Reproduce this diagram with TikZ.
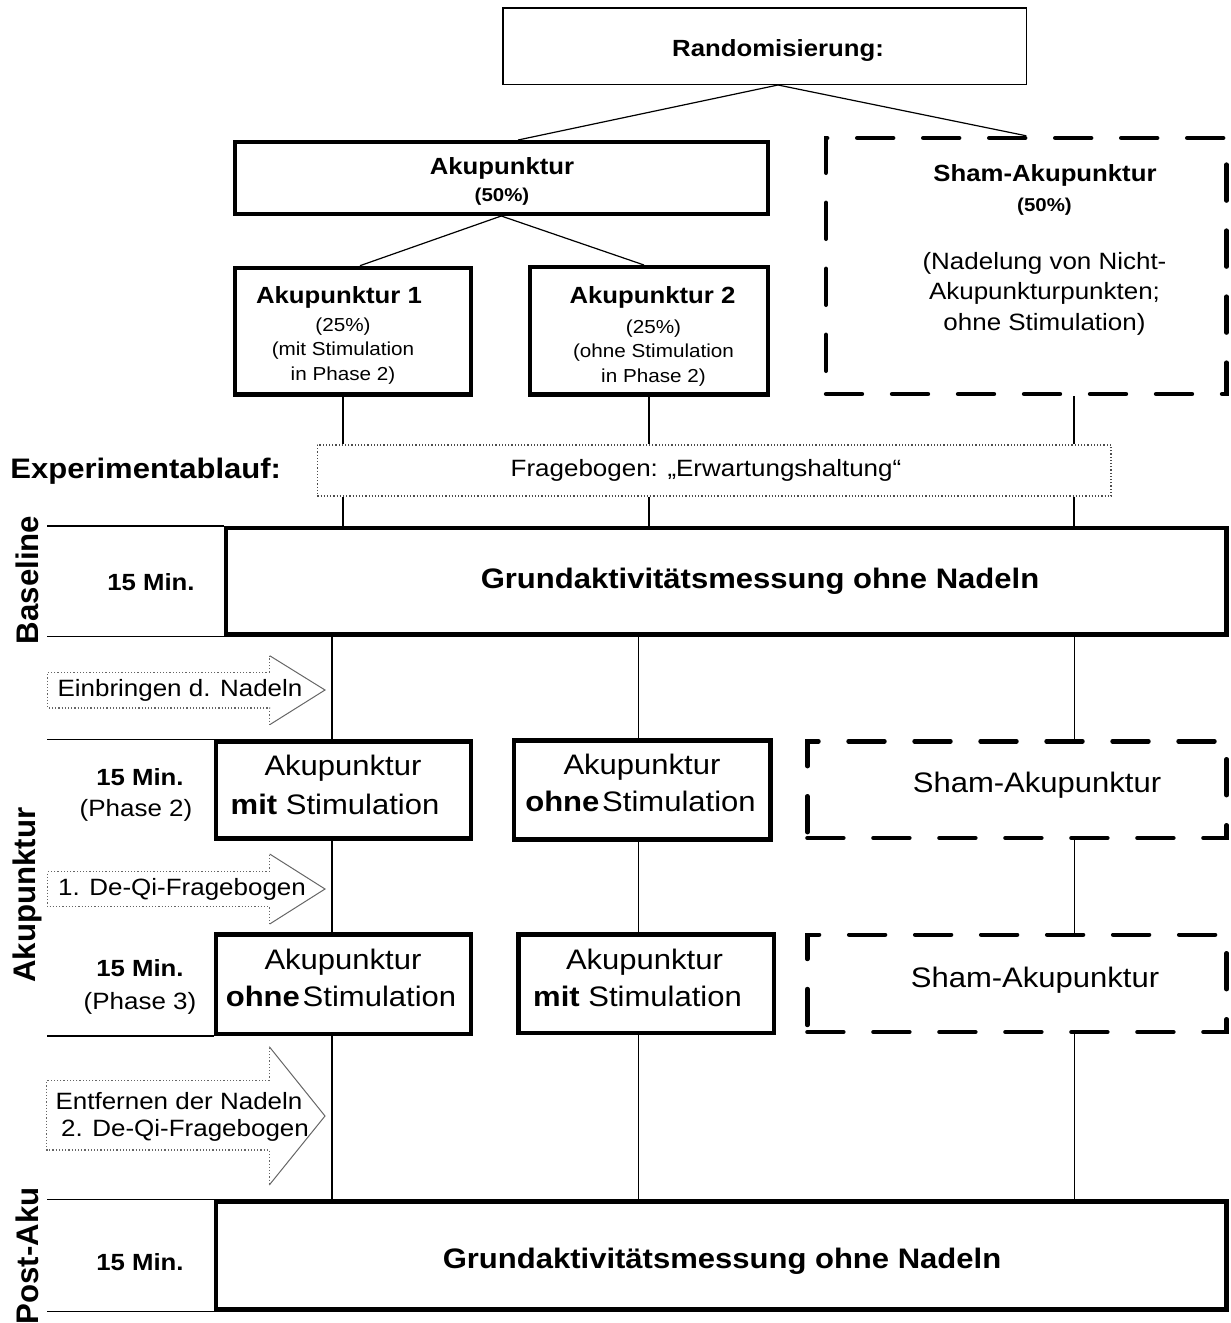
\documentclass[tikz,border=0pt]{standalone}
\usepackage{fontspec}
\setmainfont[FakeStretch=1.1]{Liberation Sans}
\newfontfamily\rotlabelfont{Liberation Sans}
\begin{document}
\begin{tikzpicture}[x=0.5pt,y=-0.5pt,
  tbox/.style={draw, line width=2.2pt, fill=white, inner sep=0pt, rectangle},
  dbox/.style={draw, line width=2.2pt, dash pattern=on 18pt off 15pt, line cap=round, fill=white, inner sep=0pt, rectangle},
  nbox/.style={draw, line width=0.75pt, fill=white, inner sep=0pt, rectangle},
  fbox/.style={draw=black!70, densely dotted, line width=0.6pt, fill=white, inner sep=0pt, rectangle},
  conn/.style={line width=0.6pt},
  lmark/.style={line width=0.75pt},
  adot/.style={draw=black!60, densely dotted, line width=0.6pt},
  ahead/.style={draw=black!60, line width=0.5pt},
  fbig/.style={font=\fontsize{14.1}{18}\selectfont, inner sep=0pt},
  fbigb/.style={font=\fontsize{14.1}{18}\selectfont\bfseries, inner sep=0pt},
  frot/.style={font=\rotlabelfont\fontsize{15.6}{18}\selectfont\bfseries, inner sep=0pt, rotate=90},
  fmed/.style={font=\fontsize{11.8}{15}\selectfont, inner sep=0pt},
  fmedb/.style={font=\fontsize{11.7}{15}\selectfont\bfseries, inner sep=0pt},
  fsmall/.style={font=\fontsize{9.4}{12.2}\selectfont, inner sep=0pt, align=center},
  fsmallb/.style={font=\fontsize{9.3}{12}\selectfont\bfseries, inner sep=0pt}]
\useasboundingbox (0,0) rectangle (1231,1323);

% top boxes
\node[nbox, minimum width=261.75pt, minimum height=38.25pt] (rand) at (764.5,46) {};
\node[fmedb] (randT) at (778,50) {Randomisierung:};

\node[tbox, minimum width=266.55pt, minimum height=35.8pt] (aku) at (501.25,178) {};
\node[fmedb] (akuT) at (502,168) {Akupunktur};
\node[fsmallb] (akuP) at (502,197) {(50\%)};

\node[tbox, minimum width=118.05pt, minimum height=63.3pt] (aku1) at (352.75,331.2) {};
\node[fmedb] (aku1T) at (339,297.7) {Akupunktur 1};
\node[fsmall] (aku1S) at (343,350.8) {(25\%)\\(mit Stimulation\\in Phase 2)};

\node[tbox, minimum width=118.8pt, minimum height=63.65pt] (aku2) at (649,330.85) {};
\node[fmedb] (aku2T) at (652.5,297) {Akupunktur 2};
\node[fsmall] (aku2S) at (653.5,353) {(25\%)\\(ohne Stimulation\\in Phase 2)};

\node[dbox, minimum width=200.3pt, minimum height=128pt] (sham) at (1026.3,266) {};
\node[fmedb] (shamT) at (1045,175) {Sham-Akupunktur};
\node[fsmallb] (shamP) at (1044.5,206.7) {(50\%)};
\node[fmed, align=center, font=\fontsize{11.8}{15.3}\selectfont] (shamS) at (1044.5,293.5) {(Nadelung von Nicht-\\Akupunkturpunkten;\\ohne Stimulation)};

% questionnaire
\node[fbox, minimum width=396.85pt, minimum height=25.5pt] (frage) at (714.15,470.5) {};
\node[fmed] (frageT) at (706,470.5) {Fragebogen: „Erwartungshaltung“};
\node[fbigb, anchor=west] (exp) at (10,471.7) {Experimentablauf:};

% baseline
\node[tbox, minimum width=500.1pt, minimum height=53.15pt] (grund1) at (726.3,581.35) {};
\node[fbigb] (grund1T) at (760,581.7) {Grundaktivitätsmessung ohne Nadeln};

% phase 2
\node[tbox, minimum width=127.7pt, minimum height=48.5pt] (p2a) at (343.4,790) {};
\node[fbig] (p2aT) at (343,768.3) {Akupunktur};
\node[fbig] (p2aU) at (335,804) {\textbf{mit} Stimulation};

\node[tbox, minimum width=128.3pt, minimum height=49.5pt] (p2b) at (642.2,790) {};
\node[fbig] (p2bT) at (642,766.7) {Akupunktur};
\node[fbig] (p2bU) at (640.5,801.7) {\textbf{ohne}\hspace{0.1em}Stimulation};

\node[dbox, minimum width=209.6pt, minimum height=48.35pt] (p2s) at (1017,789.65) {};
\node[fbig] (p2sT) at (1037,785) {Sham-Akupunktur};

% phase 3
\node[tbox, minimum width=127.7pt, minimum height=49.65pt] (p3a) at (343.4,984.15) {};
\node[fbig] (p3aT) at (343,961.7) {Akupunktur};
\node[fbig] (p3aU) at (341,996.7) {\textbf{ohne}\hspace{0.1em}Stimulation};

\node[tbox, minimum width=127.65pt, minimum height=49.15pt] (p3b) at (646.15,983.65) {};
\node[fbig] (p3bT) at (644.5,961.7) {Akupunktur};
\node[fbig] (p3bU) at (637.5,996.7) {\textbf{mit} Stimulation};

\node[dbox, minimum width=209.6pt, minimum height=48.65pt] (p3s) at (1017,983.35) {};
\node[fbig] (p3sT) at (1035,980) {Sham-Akupunktur};

% post
\node[tbox, minimum width=505.35pt, minimum height=54pt] (grund2) at (721.05,1255.5) {};
\node[fbigb] (grund2T) at (722,1261.7) {Grundaktivitätsmessung ohne Nadeln};

% left labels
\node[frot] (lb1) at (27.7,580) {Baseline};
\node[frot] (lb2) at (27.7,895) {Akupunktur};
\node[frot] (lb3) at (27.7,1256) {Post-Aku};
\node[fmedb] (m1) at (151,581.7) {15 Min.};
\node[fmedb] (m2) at (140,777.3) {15 Min.};
\node[fmed] (m2p) at (136,810) {(Phase 2)};
\node[fmedb] (m3) at (140,968.3) {15 Min.};
\node[fmed] (m3p) at (140,1003.3) {(Phase 3)};
\node[fmedb] (m4) at (140,1261.7) {15 Min.};

% connectors
\coordinate (lm) at (47,0);
\coordinate (c1u) at (343,0);
\coordinate (c2u) at (649,0);
\coordinate (c3u) at (1074,0);
\coordinate (c1) at (332,0);
\coordinate (c2) at (638.5,0);
\coordinate (c3) at (1074.4,0);

\draw[conn] ([xshift=6.75pt]rand.south) -- ([xshift=8.4pt]aku.north);
\draw[conn] ([xshift=6.75pt]rand.south) -- (sham.north);
\draw[conn] (aku.south) -- ([xshift=3.6pt]aku1.north);
\draw[conn] (aku.south) -- ([xshift=-2.5pt]aku2.north);

\foreach \c/\n in {c1u/aku1, c2u/aku2, c3u/sham} {
  \draw[conn] (\n.south -| \c) -- (frage.north -| \c);
  \draw[conn] (frage.south -| \c) -- (grund1.north -| \c);
}
\foreach \c/\a/\b in {c1/p2a/p3a, c2/p2b/p3b, c3/p2s/p3s} {
  \draw[conn] (grund1.south -| \c) -- (\a.north -| \c);
  \draw[conn] (\a.south -| \c) -- (\b.north -| \c);
  \draw[conn] (\b.south -| \c) -- (grund2.north -| \c);
}

\draw[lmark] (grund1.north west) -- (lm |- grund1.north west);
\draw[lmark] (grund1.south west) -- (lm |- grund1.south west);
\draw[lmark] (p2a.north west) -- (lm |- p2a.north west);
\draw[lmark] (p3a.south west) -- (lm |- p3a.south west);
\draw[lmark] (grund2.north west) -- (lm |- grund2.north west);
\draw[lmark] (grund2.south west) -- (lm |- grund2.south west);

% block arrows
\draw[adot] (269.7,672.3) -- (47.5,672.3) -- (47.5,708) -- (269.7,708) -- (269.7,724.7);
\draw[adot] (269.7,672.3) -- (269.7,655.7);
\draw[ahead] (269.7,655.7) -- (325,690) -- (269.7,724.7);
\node[fmed] (a1T) at (180,690) {Einbringen d. Nadeln};

\draw[adot] (269.7,871.7) -- (47.5,871.7) -- (47.5,906.7) -- (269.7,906.7) -- (269.7,924);
\draw[adot] (269.7,871.7) -- (269.7,854);
\draw[ahead] (269.7,854) -- (325,889) -- (269.7,924);
\node[fmed] (a2T) at (182,889) {1. De-Qi-Fragebogen};

\draw[adot] (269.3,1080.7) -- (46.7,1080.7) -- (46.7,1150) -- (269.3,1150) -- (269.3,1185);
\draw[adot] (269.3,1080.7) -- (269.3,1046.7);
\draw[ahead] (269.3,1046.7) -- (325,1116) -- (269.3,1185);
\node[fmed] (a3T) at (179,1100.7) {Entfernen der Nadeln};
\node[fmed] (a3U) at (185,1130) {2. De-Qi-Fragebogen};
\end{tikzpicture}
\end{document}
